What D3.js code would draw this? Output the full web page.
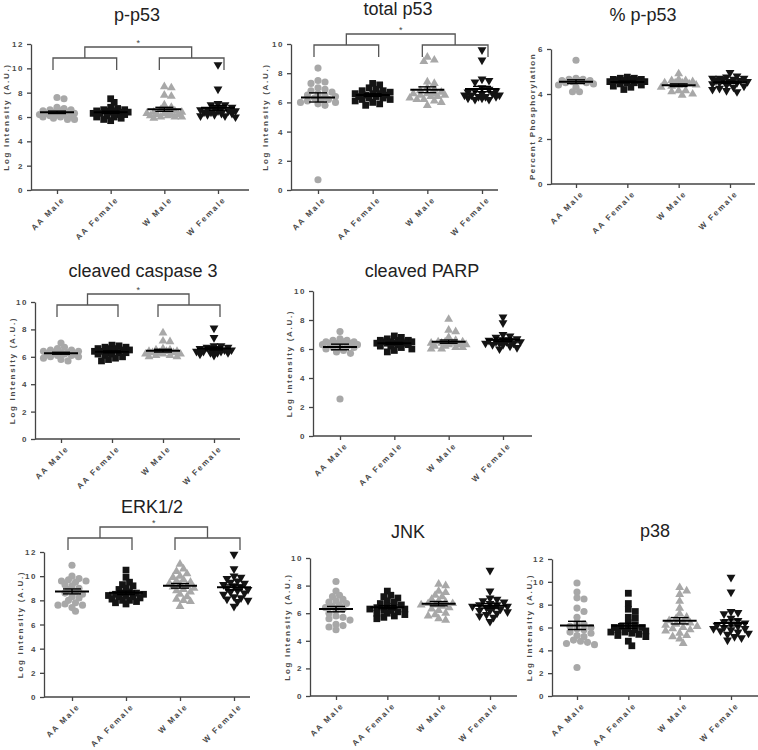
<!DOCTYPE html>
<html>
<head>
<meta charset="utf-8">
<script src="https://cdn.jsdelivr.net/npm/d3@7"></script>
<style>
body { margin: 0; background: #fff; }
svg { display: block; }
text { font-family: "Liberation Sans", Arial, sans-serif; }
</style>
</head>
<body>
<svg id="chart" width="758" height="750"></svg>
<script>
const groups = ["AA Male", "AA Female", "W Male", "W Female"];

const ticks12 = [0, 2, 4, 6, 8, 10, 12];
const ticks10 = [0, 2, 4, 6, 8, 10];
const ticks6 = [0, 2, 4, 6];

// values per group: AA Male, AA Female, W Male, W Female
const pP53 = [
    [7.6, 7.5, 6.8, 6.7, 6.6, 6.6, 6.5, 6.5, 6.4, 6.4, 6.3, 6.3, 6.2, 6.2, 6.2, 6.1, 6.1, 6.0, 6.0, 5.9, 5.8, 5.8],
    [7.5, 7.2, 6.8, 6.7, 6.6, 6.6, 6.5, 6.5, 6.5, 6.4, 6.4, 6.4, 6.3, 6.3, 6.2, 6.2, 6.1, 6.0, 6.0, 5.9, 5.8, 5.7],
    [8.5, 8.4, 7.8, 7.7, 7.0, 6.8, 6.6, 6.5, 6.5, 6.4, 6.4, 6.3, 6.3, 6.2, 6.2, 6.2, 6.1, 6.1, 6.0, 6.0, 5.9, 6.0],
    [10.3, 8.3, 7.1, 7.0, 7.0, 6.8, 6.7, 6.7, 6.6, 6.6, 6.5, 6.5, 6.5, 6.4, 6.4, 6.3, 6.3, 6.2, 6.2, 6.1, 6.1, 6.0]
];
const totalP53 = [
    [8.35, 7.5, 7.4, 7.3, 7.0, 6.9, 6.8, 6.7, 6.6, 6.5, 6.4, 6.3, 6.2, 6.1, 6.0, 6.0, 5.9, 5.8, 6.2, 6.5, 0.7],
    [7.3, 7.2, 7.0, 6.9, 6.8, 6.8, 6.7, 6.6, 6.6, 6.5, 6.5, 6.4, 6.4, 6.3, 6.3, 6.2, 6.2, 6.1, 6.0, 5.9, 5.8, 6.6],
    [9.1, 8.9, 8.8, 7.4, 7.3, 7.0, 6.9, 6.8, 6.7, 6.6, 6.6, 6.5, 6.5, 6.4, 6.4, 6.3, 6.2, 6.1, 6.0, 5.8, 6.2, 6.6],
    [9.6, 8.9, 7.6, 7.5, 7.4, 7.0, 6.9, 6.8, 6.8, 6.7, 6.6, 6.6, 6.5, 6.5, 6.4, 6.4, 6.3, 6.3, 6.2, 6.2, 6.5, 6.4]
];
const pctP53 = [
    [5.5, 4.7, 4.65, 4.6, 4.6, 4.55, 4.5, 4.5, 4.45, 4.4, 4.3, 4.1, 4.1, 4.65, 4.6],
    [4.75, 4.7, 4.7, 4.65, 4.65, 4.6, 4.6, 4.55, 4.55, 4.5, 4.5, 4.45, 4.4, 4.35, 4.3, 4.2, 4.6, 4.65],
    [4.9, 4.65, 4.6, 4.55, 4.5, 4.5, 4.45, 4.4, 4.4, 4.35, 4.3, 4.15, 4.15, 4.1, 4.0, 3.95, 4.6, 4.5],
    [4.95, 4.8, 4.75, 4.7, 4.7, 4.65, 4.6, 4.6, 4.55, 4.5, 4.5, 4.45, 4.4, 4.35, 4.3, 4.25, 4.2, 4.15, 4.1, 4.65, 4.7, 4.55]
];
const casp3 = [
    [7.0, 6.7, 6.6, 6.5, 6.5, 6.4, 6.4, 6.3, 6.3, 6.2, 6.2, 6.1, 6.1, 6.0, 6.0, 5.9, 5.8, 5.7, 6.3, 6.2],
    [6.85, 6.8, 6.7, 6.7, 6.6, 6.6, 6.5, 6.5, 6.4, 6.4, 6.3, 6.3, 6.2, 6.2, 6.1, 6.0, 5.9, 5.8, 5.7, 6.5, 6.6, 6.3],
    [7.75, 7.15, 7.1, 6.6, 6.5, 6.5, 6.4, 6.4, 6.3, 6.3, 6.2, 6.2, 6.1, 6.1, 6.0, 6.0, 6.3, 6.4, 6.2],
    [8.1, 7.4, 6.8, 6.8, 6.7, 6.7, 6.6, 6.6, 6.5, 6.5, 6.4, 6.4, 6.3, 6.3, 6.2, 6.1, 6.5, 6.6, 6.4, 6.3]
];
const parp = [
    [7.2, 6.7, 6.6, 6.6, 6.5, 6.5, 6.4, 6.4, 6.3, 6.3, 6.2, 6.2, 6.1, 6.1, 6.0, 5.9, 5.8, 5.7, 6.5, 6.4, 2.55],
    [6.9, 6.8, 6.7, 6.6, 6.6, 6.5, 6.5, 6.5, 6.4, 6.4, 6.4, 6.3, 6.3, 6.2, 6.2, 6.1, 6.0, 5.9, 5.8, 6.6, 6.5, 6.4],
    [8.05, 7.3, 7.2, 6.8, 6.6, 6.5, 6.5, 6.4, 6.4, 6.3, 6.3, 6.2, 6.2, 6.1, 6.1, 6.0, 6.0, 6.4, 6.3, 6.5],
    [8.2, 7.8, 7.0, 6.9, 6.8, 6.7, 6.6, 6.6, 6.5, 6.5, 6.4, 6.4, 6.3, 6.3, 6.2, 6.1, 6.0, 6.5, 6.4, 6.6]
];
const erk = [
    [10.9, 10.0, 9.8, 9.7, 9.6, 9.6, 9.5, 9.3, 9.2, 9.0, 8.9, 8.7, 8.6, 8.5, 8.3, 8.0, 7.8, 7.7, 7.6, 7.6, 7.4, 7.1, 8.2],
    [10.5, 9.9, 9.5, 9.3, 9.2, 9.0, 8.9, 8.7, 8.6, 8.5, 8.4, 8.3, 8.2, 8.1, 8.0, 8.0, 7.9, 7.8, 7.7, 8.3, 8.5, 8.6, 8.4],
    [11.0, 10.6, 10.4, 10.2, 10.0, 9.9, 9.7, 9.6, 9.4, 9.3, 9.2, 9.1, 9.0, 8.9, 8.8, 8.7, 8.5, 8.3, 8.1, 8.0, 7.9, 7.5, 9.5],
    [11.8, 10.6, 10.0, 9.9, 9.8, 9.6, 9.5, 9.4, 9.3, 9.2, 9.1, 9.0, 8.9, 8.8, 8.7, 8.5, 8.3, 8.2, 8.1, 8.0, 7.9, 7.5, 8.6]
];
const jnk = [
    [8.3, 7.6, 7.3, 7.2, 7.0, 6.9, 6.8, 6.7, 6.6, 6.5, 6.3, 6.2, 6.0, 5.8, 5.7, 5.6, 5.5, 5.2, 5.1, 5.0, 4.8, 6.4],
    [7.6, 7.3, 7.2, 7.1, 6.9, 6.8, 6.7, 6.6, 6.5, 6.4, 6.3, 6.2, 6.1, 6.0, 6.0, 5.9, 5.8, 5.7, 5.6, 6.3, 6.4, 6.2],
    [8.1, 8.0, 7.6, 7.5, 7.3, 7.2, 7.0, 6.9, 6.8, 6.7, 6.6, 6.5, 6.4, 6.3, 6.2, 6.0, 5.9, 5.8, 5.6, 5.5, 6.7, 6.6],
    [9.1, 7.6, 7.1, 7.0, 6.9, 6.8, 6.7, 6.6, 6.5, 6.4, 6.3, 6.2, 6.1, 6.0, 5.9, 5.8, 5.7, 5.4, 6.5, 6.6, 6.4, 6.2]
];
const p38 = [
    [9.9, 9.1, 8.6, 8.5, 7.7, 7.4, 6.9, 6.3, 6.1, 6.0, 5.8, 5.6, 5.5, 5.3, 5.2, 4.9, 4.8, 4.7, 4.6, 4.5, 2.5, 6.4, 5.9],
    [9.0, 8.1, 7.6, 7.4, 6.9, 6.8, 6.4, 6.2, 6.1, 6.0, 5.9, 5.8, 5.7, 5.6, 5.5, 5.4, 5.3, 5.2, 4.8, 4.4, 6.0, 5.8, 5.6],
    [9.5, 9.2, 8.9, 8.3, 7.7, 7.2, 6.9, 6.8, 6.6, 6.5, 6.3, 6.1, 6.0, 5.8, 5.7, 5.5, 5.3, 5.2, 5.0, 4.6, 6.4, 6.2, 5.9],
    [10.4, 9.1, 7.4, 7.3, 7.2, 6.8, 6.6, 6.5, 6.4, 6.3, 6.1, 6.0, 5.9, 5.8, 5.7, 5.5, 5.4, 5.2, 5.1, 4.9, 6.2, 5.9, 5.6]
];

const logLabel = "Log Intensity (A.U.)";
const pctLabel = "Percent Phosphorylation";

// layout of each panel (pixels)
const panels = [
    {title: "p-p53", data: pP53, ticks: ticks12, ax: 31, axEnd: 249, c0: 57, c1: 218, top: 44, bot: 190, tx: 137, ty: 21, lab: logLabel, lx: 22, br: 58},
    {title: "total p53", data: totalP53, ticks: ticks10, ax: 291, axEnd: 498, c0: 318, c1: 482, top: 44, bot: 190, tx: 398, ty: 15, lab: logLabel, lx: 23, br: 45},
    {title: "% p-p53", data: pctP53, ticks: ticks6, ax: 551, axEnd: 755, c0: 576, c1: 730, top: 49, bot: 184, tx: 643, ty: 21, lab: pctLabel, lx: 16},
    {title: "cleaved caspase 3", data: casp3, ticks: ticks10, ax: 35, axEnd: 240, c0: 61, c1: 214, top: 302, bot: 439, tx: 143, ty: 277, lab: logLabel, lx: 20, br: 305},
    {title: "cleaved PARP", data: parp, ticks: ticks10, ax: 313, axEnd: 532, c0: 340, c1: 503, top: 291, bot: 436, tx: 422, ty: 277, lab: logLabel, lx: 21},
    {title: "ERK1/2", data: erk, ticks: ticks12, ax: 44, axEnd: 250, c0: 72, c1: 234, top: 552, bot: 697, tx: 152, ty: 513, lab: logLabel, lx: 21, br: 538},
    {title: "JNK", data: jnk, ticks: ticks10, ax: 310, axEnd: 517, c0: 336, c1: 490, top: 558, bot: 696, tx: 408, ty: 538, lab: logLabel, lx: 20},
    {title: "p38", data: p38, ticks: ticks12, ax: 552, axEnd: 758, c0: 577, c1: 731, top: 559, bot: 696, tx: 655, ty: 537, lab: logLabel, lx: 20}
];

const gray = "#a8a8a8", black = "#141414";
const markers = [
    {type: d3.symbolCircle, size: 40, color: gray, rot: 0},
    {type: d3.symbolSquare, size: 46, color: black, rot: 0},
    {type: d3.symbolTriangle, size: 34, color: gray, rot: 0},
    {type: d3.symbolTriangle, size: 34, color: black, rot: 180}
];

const svg = d3.select("#chart");

// simple beeswarm: nearest free slot, overlap allowed past the max spread
function swarm(vals, y) {
    const placed = [];
    const step = 3.5, dist = 5, maxK = 5;
    vals.slice().sort((a, b) => b - a).forEach(v => {
        const py = y(v);
        let best = 0, bestD = -1;
        for (let k = 0; k <= maxK; k++) {
            const offs = k === 0 ? [0] : [k * step, -k * step];
            for (const o of offs) {
                let m = Infinity;
                placed.forEach(q => { m = Math.min(m, Math.hypot(o - q.dx, py - q.py)); });
                if (m >= dist) { best = o; bestD = Infinity; break; }
                if (m > bestD) { bestD = m; best = o; }
            }
            if (bestD === Infinity) break;
        }
        placed.push({v, py, dx: best});
    });
    return placed;
}

function drawPanel(p) {
    const g = svg.append("g");
    const ymax = p.ticks[p.ticks.length - 1];
    const x = d3.scalePoint().domain(groups).range([p.c0, p.c1]);
    const y = d3.scaleLinear().domain([0, ymax]).range([p.bot, p.top]);

    g.append("text")
        .attr("x", p.tx).attr("y", p.ty)
        .attr("text-anchor", "middle")
        .attr("font-size", 18)
        .attr("fill", "#222")
        .text(p.title);

    const yAxis = g.append("g")
        .attr("transform", "translate(" + p.ax + ",0)")
        .call(d3.axisLeft(y).tickValues(p.ticks).tickFormat(d3.format("d"))
            .tickSize(4).tickSizeOuter(0).tickPadding(3));

    const xAxis = g.append("g")
        .attr("transform", "translate(0," + p.bot + ")")
        .call(d3.axisBottom(x).tickSize(4).tickSizeOuter(0));
    xAxis.select(".domain").attr("d", "M" + p.ax + ",0H" + p.axEnd);

    [yAxis, xAxis].forEach(a => {
        a.selectAll("path, line").attr("stroke", "#444").attr("stroke-width", 1.3);
        a.selectAll("text")
            .attr("font-size", 8)
            .attr("font-weight", "bold")
            .attr("letter-spacing", 1.5)
            .attr("fill", "#4a4a4a")
            .attr("font-family", "Liberation Sans, Arial, sans-serif");
    });
    xAxis.selectAll(".tick text")
        .attr("x", 0).attr("y", 0).attr("dy", 0)
        .attr("text-anchor", "end")
        .attr("letter-spacing", 1.8)
        .attr("transform", "translate(8,10) rotate(-45)");

    g.append("text")
        .attr("transform", "translate(" + (p.ax - p.lx) + "," + ((p.top + p.bot) / 2) + ") rotate(-90)")
        .attr("text-anchor", "middle")
        .attr("font-size", 8)
        .attr("font-weight", "bold")
        .attr("letter-spacing", p.lab === pctLabel ? 1.4 : 1.7)
        .attr("fill", "#4a4a4a")
        .text(p.lab);

    p.data.forEach((vals, i) => {
        const cx = x(groups[i]);
        const m = markers[i];
        const sym = d3.symbol().type(m.type).size(m.size);
        g.append("g").selectAll("path")
            .data(swarm(vals, y))
            .enter().append("path")
            .attr("d", sym)
            .attr("fill", m.color)
            .attr("transform", d => "translate(" + (cx + d.dx) + "," + d.py + ") rotate(" + m.rot + ")");

        const mean = d3.mean(vals);
        const sem = d3.deviation(vals) / Math.sqrt(vals.length);
        const eb = g.append("g").attr("stroke", "#000").attr("fill", "none");
        eb.append("line").attr("x1", cx - 17).attr("x2", cx + 17)
            .attr("y1", y(mean)).attr("y2", y(mean)).attr("stroke-width", 2);
        eb.append("line").attr("x1", cx).attr("x2", cx)
            .attr("y1", y(mean - sem)).attr("y2", y(mean + sem)).attr("stroke-width", 1.4);
        [mean - sem, mean + sem].forEach(v => {
            eb.append("line").attr("x1", cx - 9).attr("x2", cx + 9)
                .attr("y1", y(v)).attr("y2", y(v)).attr("stroke-width", 1.4);
        });
    });

    if (p.br) {
        // significance brackets: AA vs W
        const b = g.append("g").attr("stroke", "#555").attr("stroke-width", 1.3).attr("fill", "none");
        const l0 = x(groups[0]) - 4, l1 = x(groups[1]) + 6;
        const r0 = x(groups[2]) - 5, r1 = x(groups[3]) + 6;
        const yb = p.br, yt = p.br - 11;
        b.append("path").attr("d", "M" + l0 + "," + (yb + 12) + "V" + yb + "H" + l1 + "V" + (yb + 12));
        b.append("path").attr("d", "M" + r0 + "," + (yb + 12) + "V" + yb + "H" + r1 + "V" + (yb + 12));
        const lm = (l0 + l1) / 2, rm = (r0 + r1) / 2;
        b.append("path").attr("d", "M" + lm + "," + yb + "V" + yt + "H" + rm + "V" + yb);
        g.append("text")
            .attr("x", (lm + rm) / 2).attr("y", yt - 1)
            .attr("text-anchor", "middle")
            .attr("font-size", 9)
            .attr("fill", "#444")
            .text("*");
    }
}

panels.forEach(drawPanel);
</script>
</body>
</html>
